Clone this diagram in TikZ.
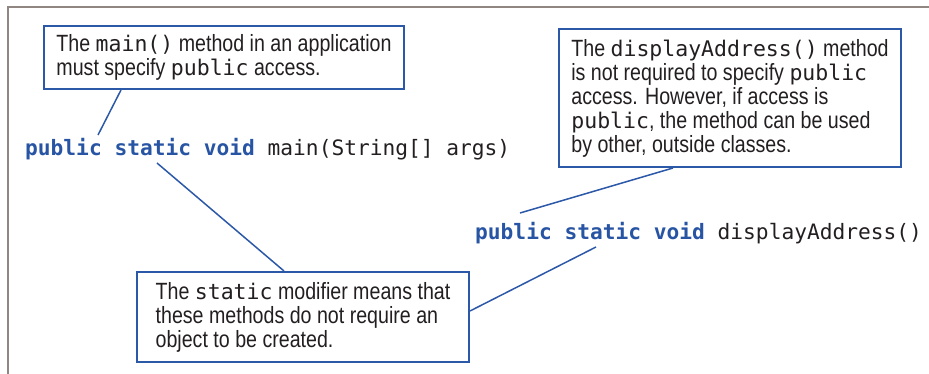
\documentclass[tikz,border=0pt]{standalone}
\usepackage{fontspec}
\setmainfont[FakeStretch=0.835]{Liberation Sans}
\setmonofont{DejaVu Sans Mono}
\usepackage{tikz}
\usetikzlibrary{positioning}
\definecolor{noteblue}{RGB}{44,88,168}
\definecolor{codeblue}{RGB}{40,84,164}
\definecolor{framegray}{RGB}{145,135,130}
\definecolor{inktext}{RGB}{35,31,32}
\newcommand{\kw}[1]{\textcolor{codeblue}{\textbf{#1}}}
\newcommand{\cw}[1]{{\ttfamily\fontsize{21.5}{24}\selectfont #1}}

\begin{document}
\begin{tikzpicture}[x=1pt,y=-1pt,
note/.style={draw=noteblue,line width=2pt,fill=white,rectangle,anchor=north west,align=left,
    text=inktext,font=\fontsize{23.5}{24}\selectfont},
codeline/.style={anchor=base west,inner sep=0pt,text=inktext,
    font=\ttfamily\fontsize{21.2}{24}\selectfont},
leader/.style={draw=noteblue,line width=1.5pt}]
\useasboundingbox (0,0) rectangle (929,374);
\draw[framegray,line width=2pt] (8,374) -- (8,7) -- (929,7);
\node (mainnote) [note,minimum width=360pt,minimum height=63pt] at (43,25)
    {The \cw{main()} method in an application\\
     must specify \cw{public} access.};
\node (dispnote) [note,minimum width=342pt,minimum height=138pt] at (558,28)
    {The \cw{displayAddress()} method\\
     is not required to specify \cw{public}\\
     access. However, if access is\\
     \cw{public}, the method can be used\\
     by other, outside classes.};
\node (staticnote) [note,minimum width=332pt,minimum height=90pt] at (136,271)
    {The \cw{static} modifier means that\\
     these methods do not require an\\
     object to be created.};
\node (maincode) [codeline] at (25,156) {\kw{public static void} main(String[] args)};
\node (dispcode) [codeline] at (475,240) {\kw{public static void} displayAddress()};
\coordinate (tipA) at (98,135);
\coordinate (tipB) at (157,163);
\coordinate (tipC) at (520,213);
\coordinate (tipD) at (596,247);
\draw[leader] ([xshift=78pt]mainnote.south west) -- (tipA);
\draw[leader] (tipB) -- ([xshift=148pt]staticnote.north west);
\draw[leader] ([xshift=115pt]dispnote.south west) -- (tipC);
\draw[leader] (tipD) -- ([yshift=-40pt]staticnote.north east);
\end{tikzpicture}
\end{document}
